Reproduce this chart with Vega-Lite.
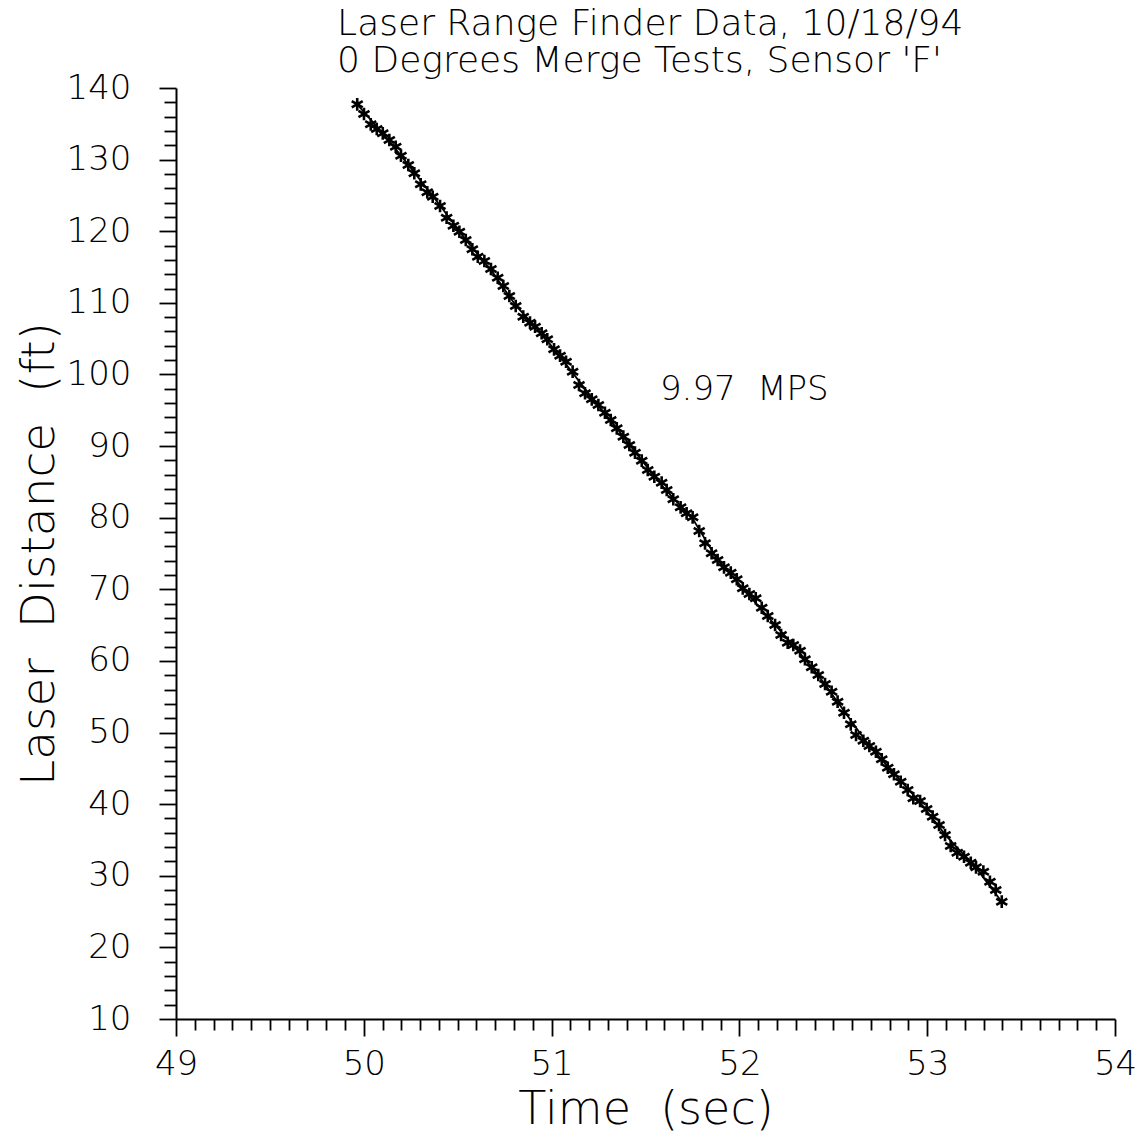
{
  "$schema": "https://vega.github.io/schema/vega-lite/v6.json",
  "width": 939,
  "height": 931,
  "autosize": {"type": "none"},
  "padding": {"left": 176, "top": 88, "right": 33, "bottom": 116},
  "background": "white",
  "config": {"view": {"stroke": null}},
  "title": {
    "text": ["Laser Range Finder Data, 10/18/94", "0 Degrees Merge Tests, Sensor 'F'"],
    "anchor": "start",
    "dx": 322,
    "dy": 59,
    "font": "DejaVu Sans",
    "fontSize": 36,
    "fontWeight": 200,
    "color": "black",
    "lineHeight": 37,
    "baseline": "bottom",
    "offset": 14
  },
  "datasets": {
    "pts": [
      {"t": 49.965, "d": 137.72}, {"t": 50.001, "d": 136.37}, {"t": 50.037, "d": 134.93}, {"t": 50.069, "d": 134.28},
      {"t": 50.101, "d": 133.67}, {"t": 50.136, "d": 132.74}, {"t": 50.170, "d": 131.80}, {"t": 50.198, "d": 130.55},
      {"t": 50.237, "d": 129.25}, {"t": 50.269, "d": 128.09}, {"t": 50.303, "d": 126.55}, {"t": 50.338, "d": 125.44},
      {"t": 50.367, "d": 124.82}, {"t": 50.406, "d": 123.52}, {"t": 50.441, "d": 121.89}, {"t": 50.477, "d": 120.77},
      {"t": 50.509, "d": 119.93}, {"t": 50.543, "d": 118.78}, {"t": 50.578, "d": 117.48}, {"t": 50.607, "d": 116.44},
      {"t": 50.642, "d": 115.84}, {"t": 50.677, "d": 114.73}, {"t": 50.713, "d": 113.51}, {"t": 50.743, "d": 112.35},
      {"t": 50.775, "d": 110.96}, {"t": 50.809, "d": 109.56}, {"t": 50.849, "d": 108.07}, {"t": 50.885, "d": 107.23},
      {"t": 50.912, "d": 106.67}, {"t": 50.947, "d": 105.75}, {"t": 50.977, "d": 104.91}, {"t": 51.013, "d": 103.51},
      {"t": 51.045, "d": 102.62}, {"t": 51.077, "d": 101.78}, {"t": 51.112, "d": 100.39}, {"t": 51.146, "d": 98.53},
      {"t": 51.178, "d": 97.37}, {"t": 51.214, "d": 96.53}, {"t": 51.249, "d": 95.74}, {"t": 51.284, "d": 94.66},
      {"t": 51.315, "d": 93.64}, {"t": 51.347, "d": 92.48}, {"t": 51.382, "d": 91.31}, {"t": 51.414, "d": 90.15},
      {"t": 51.444, "d": 89.08}, {"t": 51.480, "d": 87.96}, {"t": 51.512, "d": 86.66}, {"t": 51.547, "d": 85.72},
      {"t": 51.586, "d": 84.89}, {"t": 51.613, "d": 83.87}, {"t": 51.648, "d": 82.57}, {"t": 51.687, "d": 81.45},
      {"t": 51.719, "d": 80.61}, {"t": 51.751, "d": 80.05}, {"t": 51.786, "d": 78.14}, {"t": 51.817, "d": 76.42},
      {"t": 51.852, "d": 75.03}, {"t": 51.884, "d": 74.09}, {"t": 51.918, "d": 73.07}, {"t": 51.954, "d": 72.32},
      {"t": 51.986, "d": 71.40}, {"t": 52.018, "d": 70.14}, {"t": 52.053, "d": 69.34}, {"t": 52.087, "d": 68.74},
      {"t": 52.119, "d": 67.43}, {"t": 52.151, "d": 66.27}, {"t": 52.190, "d": 65.02}, {"t": 52.222, "d": 63.62},
      {"t": 52.257, "d": 62.54}, {"t": 52.287, "d": 62.22}, {"t": 52.323, "d": 61.43}, {"t": 52.349, "d": 60.23},
      {"t": 52.385, "d": 59.11}, {"t": 52.420, "d": 58.03}, {"t": 52.456, "d": 56.78}, {"t": 52.491, "d": 55.70},
      {"t": 52.523, "d": 54.31}, {"t": 52.557, "d": 52.77}, {"t": 52.593, "d": 51.15}, {"t": 52.621, "d": 49.66},
      {"t": 52.660, "d": 48.86}, {"t": 52.692, "d": 48.12}, {"t": 52.727, "d": 47.32}, {"t": 52.758, "d": 46.26},
      {"t": 52.790, "d": 45.09}, {"t": 52.823, "d": 44.17}, {"t": 52.859, "d": 43.13}, {"t": 52.896, "d": 41.98},
      {"t": 52.926, "d": 40.82}, {"t": 52.962, "d": 40.44}, {"t": 52.997, "d": 39.32}, {"t": 53.029, "d": 38.25},
      {"t": 53.063, "d": 37.09}, {"t": 53.095, "d": 35.69}, {"t": 53.125, "d": 34.16}, {"t": 53.160, "d": 33.22},
      {"t": 53.196, "d": 32.66}, {"t": 53.232, "d": 31.82}, {"t": 53.260, "d": 31.18}, {"t": 53.299, "d": 30.57},
      {"t": 53.334, "d": 29.17}, {"t": 53.365, "d": 28.01}, {"t": 53.397, "d": 26.38}
    ],
    "fit": [
      {"t": 49.965, "d": 137.7}, {"t": 50.10, "d": 133.7}, {"t": 50.24, "d": 129.2}, {"t": 50.40, "d": 123.8},
      {"t": 50.54, "d": 118.9}, {"t": 50.68, "d": 114.5}, {"t": 50.81, "d": 109.6}, {"t": 50.95, "d": 105.6},
      {"t": 51.08, "d": 101.3}, {"t": 51.21, "d": 96.9}, {"t": 51.35, "d": 92.4}, {"t": 51.48, "d": 88.0},
      {"t": 51.61, "d": 83.8}, {"t": 51.75, "d": 79.9}, {"t": 51.884, "d": 74.1}, {"t": 52.02, "d": 70.1},
      {"t": 52.15, "d": 66.2}, {"t": 52.29, "d": 62.1}, {"t": 52.42, "d": 58.0}, {"t": 52.56, "d": 52.9},
      {"t": 52.69, "d": 48.2}, {"t": 52.83, "d": 44.1}, {"t": 52.96, "d": 40.3}, {"t": 53.10, "d": 35.6},
      {"t": 53.26, "d": 31.1}, {"t": 53.397, "d": 26.38}
    ],
    "note": [{"t": 51.577, "d": 96.43, "label": "9.97\u00a0\u00a0MPS"}]
  },
  "encoding": {
    "x": {
      "field": "t", "type": "quantitative",
      "scale": {"domain": [49, 54], "nice": false, "zero": false},
      "axis": {
        "values": [49,49.1,49.2,49.3,49.4,49.5,49.6,49.7,49.8,49.9,50,50.1,50.2,50.3,50.4,50.5,50.6,50.7,50.8,50.9,51,51.1,51.2,51.3,51.4,51.5,51.6,51.7,51.8,51.9,52,52.1,52.2,52.3,52.4,52.5,52.6,52.7,52.8,52.9,53,53.1,53.2,53.3,53.4,53.5,53.6,53.7,53.8,53.9,54],
        "grid": false,
        "domainColor": "black", "domainWidth": 2,
        "tickColor": "black", "tickWidth": 1.8,
        "tickSize": {"condition": {"test": "abs(datum.value - round(datum.value)) < 0.001", "value": 17}, "value": 11},
        "labelExpr": "abs(datum.value - round(datum.value)) < 0.001 ? format(datum.value, '.0f') : ''",
        "labelFont": "DejaVu Sans", "labelFontSize": 34, "labelFontWeight": 200, "labelColor": "black",
        "labelPadding": 11, "labelFlush": false, "labelOverlap": false,
        "title": "Time\u00a0\u00a0(sec)",
        "titleFont": "DejaVu Sans", "titleFontSize": 46, "titleFontWeight": 200, "titleColor": "black",
        "titlePadding": 6
      }
    },
    "y": {
      "field": "d", "type": "quantitative",
      "scale": {"domain": [10, 140], "nice": false, "zero": false},
      "axis": {
        "values": [10,12,14,16,18,20,22,24,26,28,30,32,34,36,38,40,42,44,46,48,50,52,54,56,58,60,62,64,66,68,70,72,74,76,78,80,82,84,86,88,90,92,94,96,98,100,102,104,106,108,110,112,114,116,118,120,122,124,126,128,130,132,134,136,138,140],
        "grid": false,
        "domainColor": "black", "domainWidth": 2,
        "tickColor": "black", "tickWidth": 1.8,
        "tickSize": {"condition": {"test": "datum.value % 10 === 0", "value": 17}, "value": 12},
        "labelExpr": "datum.value % 10 === 0 ? format(datum.value, '.0f') : ''",
        "labelFont": "DejaVu Sans", "labelFontSize": 34, "labelFontWeight": 200, "labelColor": "black",
        "labelPadding": 28, "labelFlush": false, "labelOverlap": false,
        "title": "Laser\u00a0\u00a0Distance\u00a0\u00a0(ft)",
        "titleFont": "DejaVu Sans", "titleFontSize": 47, "titleFontWeight": 200, "titleColor": "black",
        "titlePadding": 3
      }
    }
  },
  "layer": [
    {
      "data": {"name": "fit"},
      "mark": {"type": "line", "color": "black", "strokeWidth": 1.8},
      "encoding": {}
    },
    {
      "data": {"name": "pts"},
      "mark": {
        "type": "point",
        "shape": "M0,-1L0,1M-0.87,-0.5L0.87,0.5M-0.87,0.5L0.87,-0.5",
        "filled": false, "stroke": "black", "strokeWidth": 2.6, "size": 160, "opacity": 1
      },
      "encoding": {}
    },
    {
      "data": {"name": "note"},
      "mark": {"type": "text", "align": "left", "baseline": "alphabetic", "font": "DejaVu Sans", "fontSize": 34, "fontWeight": 200, "color": "black"},
      "encoding": {"text": {"field": "label"}}
    }
  ]
}
